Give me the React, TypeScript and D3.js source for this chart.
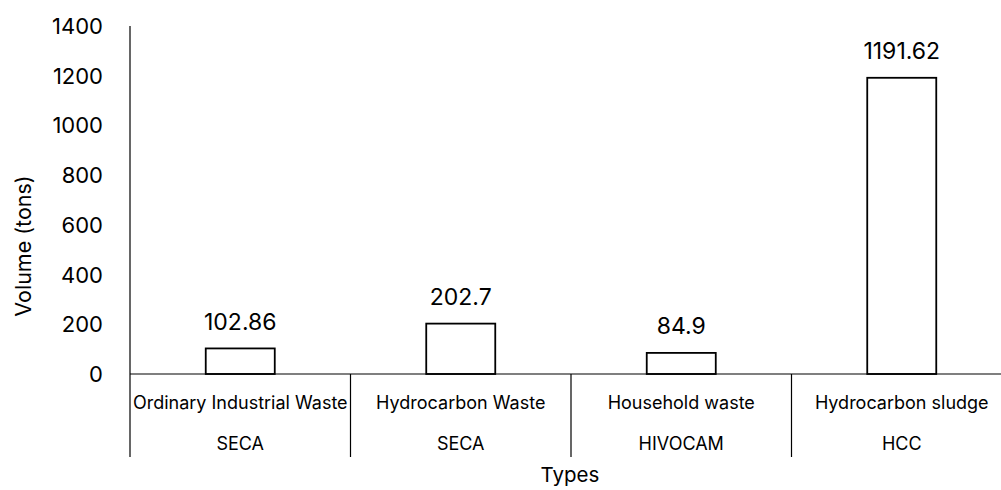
import React from "react";
import * as d3 from "d3";

// Waste volumes by type, with the handling company under each type
const wasteTypes = [
  "Ordinary Industrial Waste",
  "Hydrocarbon Waste",
  "Household waste",
  "Hydrocarbon sludge",
];
const companies = ["SECA", "SECA", "HIVOCAM", "HCC"];
const volumes = [102.86, 202.7, 84.9, 1191.62];
const yTicks = [0, 200, 400, 600, 800, 1000, 1200, 1400];

const W = 1001;
const H = 490;
const FONT = "Inter, 'Open Sans', sans-serif";

export default function App() {
  const left = 130;
  const right = 1012;
  const baseY = 374;
  const topY = 26;
  const catBottom = 457;

  const x = d3.scaleBand<string>().domain(wasteTypes).range([left, right]).padding(0);
  const y = d3.scaleLinear().domain([0, 1400]).range([baseY, topY]);
  const barW = x.bandwidth() * 0.313;

  // Boundaries between category cells, below the baseline
  const boundaries = wasteTypes.map((t) => x(t)!).concat([right]);

  return (
    <svg
      width={W}
      height={H}
      style={{ position: "absolute", left: 0, top: 0, background: "#fff" }}
      fontFamily={FONT}
    >
      {/* y tick labels */}
      {yTicks.map((t) => (
        <text key={t} x={103} y={y(t) + 8} textAnchor="end" fontSize={22} fill="#000">
          {t}
        </text>
      ))}

      {/* y axis title */}
      <text
        transform={`translate(31,${246}) rotate(-90)`}
        textAnchor="middle"
        fontSize={21.5}
        fill="#000"
      >
        Volume (tons)
      </text>

      {/* bars */}
      {volumes.map((v, i) => {
        const cx = x(wasteTypes[i])! + x.bandwidth() / 2;
        return (
          <g key={i}>
            <rect
              x={cx - barW / 2}
              y={y(v)}
              width={barW}
              height={y(0) - y(v)}
              fill="#fff"
              stroke="#000"
              strokeWidth={1.8}
            />
            <text x={cx} y={y(v) - 18.5} textAnchor="middle" fontSize={23} fill="#000">
              {v}
            </text>
          </g>
        );
      })}

      {/* axis lines */}
      <line x1={left} x2={left} y1={topY} y2={catBottom} stroke="#000" strokeWidth={1.2} />
      <line x1={left} x2={W} y1={baseY} y2={baseY} stroke="#000" strokeWidth={1.2} />
      {boundaries.slice(1).map((bx, i) => (
        <line key={i} x1={bx} x2={bx} y1={baseY} y2={catBottom} stroke="#000" strokeWidth={1.2} />
      ))}

      {/* category labels */}
      {wasteTypes.map((t, i) => {
        const cx = x(t)! + x.bandwidth() / 2;
        return (
          <g key={t}>
            <text x={cx} y={408.5} textAnchor="middle" fontSize={18} fill="#000">
              {t}
            </text>
            <text x={cx} y={450} textAnchor="middle" fontSize={18} fill="#000">
              {companies[i]}
            </text>
          </g>
        );
      })}

      {/* x axis title */}
      <text x={570} y={481.5} textAnchor="middle" fontSize={20.5} fill="#000">
        Types
      </text>
    </svg>
  );
}
